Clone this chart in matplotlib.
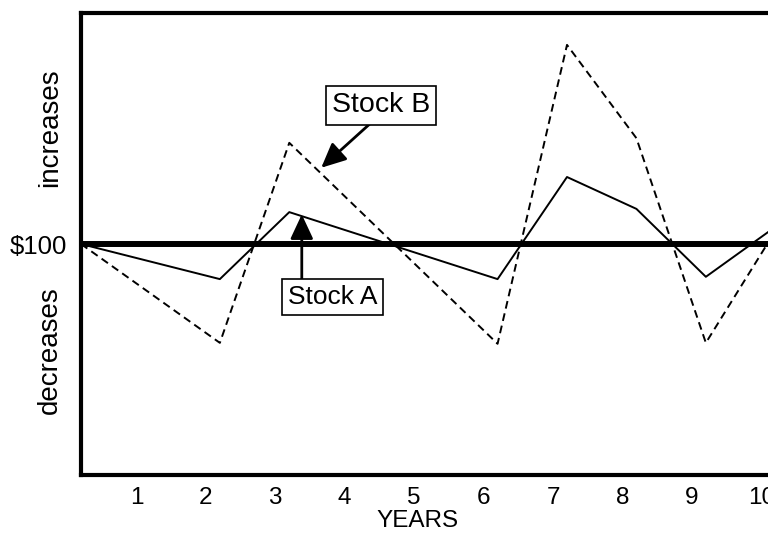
import matplotlib
matplotlib.use("Agg")
import matplotlib.pyplot as plt
import matplotlib.transforms as mtransforms

plt.rcParams['font.family'] = ['Liberation Sans', 'DejaVu Sans']

# Data (years, value relative to $100 baseline)
years = [0, 2, 3, 6, 7, 8, 9, 10]
stock_a = [100, 92.4, 106.9, 92.4, 114.5, 107.6, 92.9, 103.7]
stock_b = [100, 78.6, 121.9, 78.4, 143.1, 122.9, 78.6, 102.8]
baseline = 100
tick_years = [1, 2, 3, 4, 5, 6, 7, 8, 9, 10]
tick_labels = [str(t) for t in tick_years]

fig = plt.figure(figsize=(7.68, 5.36), dpi=100)
ax = fig.add_axes([81/768, 61/536, 729/768, 462/536])
ax.set_xlim(0, 10.5)
ax.set_ylim(50, 150)

ax.axhline(baseline, color='black', lw=4.3, zorder=1)
ax.plot(years, stock_a, color='black', lw=1.4, zorder=2)
ax.plot(years, stock_b, color='black', lw=1.4, linestyle=(0, (4, 2.5)), zorder=2)

for s in ['left', 'bottom', 'top']:
    ax.spines[s].set_linewidth(3)
ax.spines['right'].set_visible(False)

ax.set_xticks(tick_years)
ax.set_xticklabels(tick_labels, fontsize=17.5)
ax.tick_params(axis='x', length=0, pad=9)
offset = mtransforms.ScaledTranslation(-14/100, 0, fig.dpi_scale_trans)
for lbl in ax.get_xticklabels():
    lbl.set_transform(lbl.get_transform() + offset)

ax.set_yticks([baseline])
ax.set_yticklabels(['$100'], fontsize=18.5)
ax.tick_params(axis='y', length=0, pad=10)

fig.text(417/768, 1 - 521/536, 'YEARS', ha='center', va='center', fontsize=17.5)
fig.text(50/768, 1 - 128/536, 'increases', rotation=90, ha='center', va='center', fontsize=20)
fig.text(50/768, 1 - 350/536, 'decreases', rotation=90, ha='center', va='center', fontsize=20)

box = dict(boxstyle='square,pad=0.22', fc='white', ec='black', lw=1.2)
arrow = dict(arrowstyle='-|>,head_length=0.75,head_width=0.35', color='black',
             lw=2, shrinkA=0, shrinkB=0, mutation_scale=20)

# Stock B label and arrow
ax.text(4.32, 130.0, 'Stock B', fontsize=20.5, ha='center', va='center', bbox=box, zorder=5)
ax.annotate('', xy=(3.46, 116.5), xytext=(4.16, 126.0), arrowprops=arrow, zorder=4)

# Stock A label and arrow
ax.text(3.62, 88.5, 'Stock A', fontsize=19, ha='center', va='center', bbox=box, zorder=5)
ax.annotate('', xy=(3.18, 106.4), xytext=(3.18, 92.2), arrowprops=arrow, zorder=4)

fig.savefig('out.png', dpi=100)
